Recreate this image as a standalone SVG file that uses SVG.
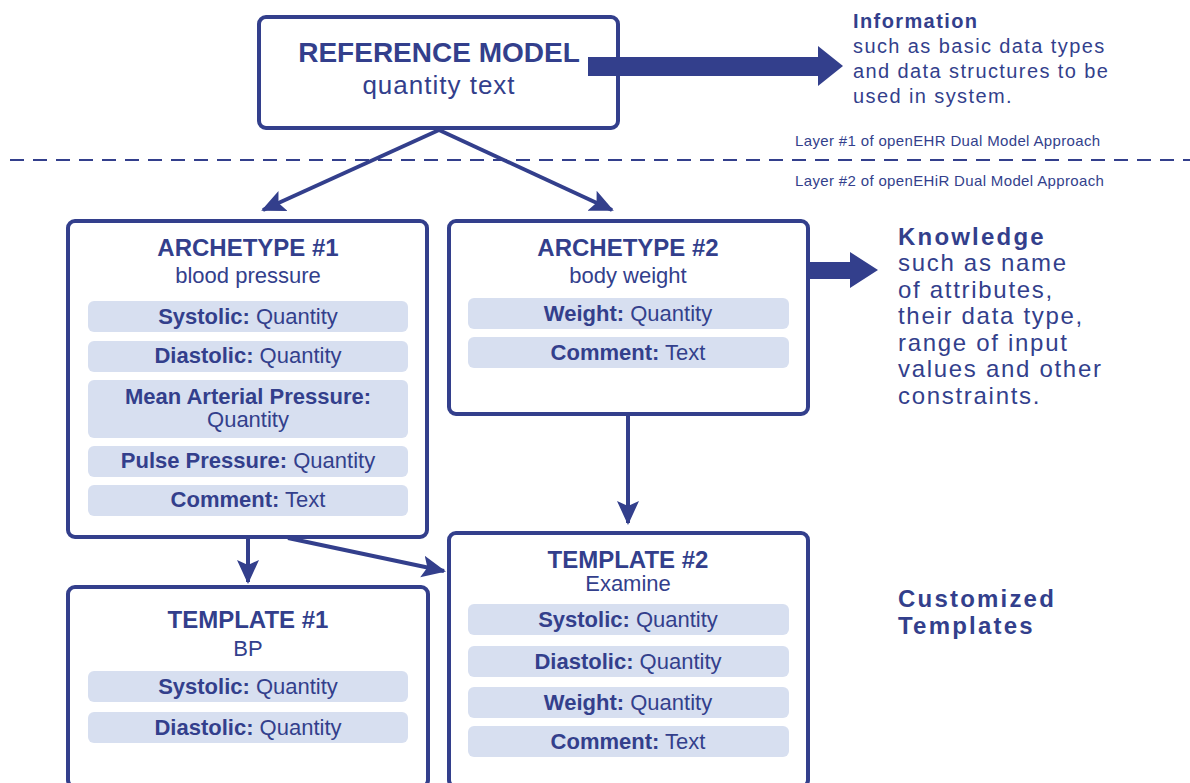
<svg xmlns="http://www.w3.org/2000/svg" width="1190" height="783" viewBox="0 0 1190 783">
<style>
.box{fill:#fff;stroke:#333f8c;stroke-width:4}
.row{fill:#d7dff0}
.t{font-family:"Liberation Sans",Arial,sans-serif;fill:#333f8c}
.title{font-weight:bold;font-size:24px;text-anchor:middle}
.sub{font-size:22px;text-anchor:middle}
.rt{font-size:22px;text-anchor:middle}
.b{font-weight:bold}
.conn{stroke:#333f8c;stroke-width:4;fill:none}
.thick{fill:#333f8c}
.side{font-size:20px;letter-spacing:1.4px}
.side2{font-size:24px;letter-spacing:1.7px}
.layer{font-size:15px;letter-spacing:0.35px}
</style>
<defs>
<marker id="ah" markerUnits="userSpaceOnUse" markerWidth="24" markerHeight="24" viewBox="0 0 24 24" refX="22" refY="12" orient="auto">
<path d="M0,1 L24,12 L0,23 L5,12 Z" fill="#333f8c"/>
</marker>
</defs>

<line x1="10" y1="160" x2="1190" y2="160" stroke="#333f8c" stroke-width="2" stroke-dasharray="14 9"/>
<text class="t layer" x="795" y="146">Layer #1 of openEHR Dual Model Approach</text>
<text class="t layer" x="795" y="186">Layer #2 of openEHiR Dual Model Approach</text>

<g id="connectors">
<line class="conn" x1="439" y1="130" x2="263" y2="210" marker-end="url(#ah)"/>
<line class="conn" x1="439" y1="130" x2="612" y2="210" marker-end="url(#ah)"/>
<line class="conn" x1="248" y1="538" x2="248" y2="582" marker-end="url(#ah)"/>
<line class="conn" x1="288" y1="538" x2="444" y2="571" marker-end="url(#ah)"/>
<line class="conn" x1="628" y1="415" x2="628" y2="523" marker-end="url(#ah)"/>
</g>

<g id="ref-model">
<rect class="box" x="259" y="17" width="359" height="111" rx="7"/>
<text class="t title" x="439" y="62" style="font-size:28px">REFERENCE MODEL</text>
<text class="t sub" x="439" y="94" style="font-size:26px;letter-spacing:1px">quantity text</text>
</g>
<polygon id="info-arrow" class="thick" points="588,57 818,57 818,46 843,66 818,86 818,76 588,76"/>

<g id="information">
<text class="t side b" x="853" y="28">Information</text>
<text class="t side" x="853" y="53">such as basic data types</text>
<text class="t side" x="853" y="78">and data structures to be</text>
<text class="t side" x="853" y="103">used in system.</text>
</g>

<g id="archetype1">
<rect class="box" x="68" y="221" width="359" height="316" rx="7"/>
<text class="t title" x="248" y="256">ARCHETYPE #1</text>
<text class="t sub" x="248" y="283">blood pressure</text>
<rect class="row" x="88" y="301" width="320" height="31" rx="6"/>
<text class="t rt" x="248" y="324"><tspan class="b">Systolic:</tspan> Quantity</text>
<rect class="row" x="88" y="341" width="320" height="31" rx="6"/>
<text class="t rt" x="248" y="363"><tspan class="b">Diastolic:</tspan> Quantity</text>
<rect class="row" x="88" y="380" width="320" height="58" rx="6"/>
<text class="t rt" x="248" y="404"><tspan class="b">Mean Arterial Pressure:</tspan></text>
<text class="t rt" x="248" y="427">Quantity</text>
<rect class="row" x="88" y="446" width="320" height="31" rx="6"/>
<text class="t rt" x="248" y="468"><tspan class="b">Pulse Pressure:</tspan> Quantity</text>
<rect class="row" x="88" y="485" width="320" height="31" rx="6"/>
<text class="t rt" x="248" y="507"><tspan class="b">Comment:</tspan> Text</text>
</g>

<g id="archetype2">
<rect class="box" x="449" y="221" width="359" height="193" rx="7"/>
<text class="t title" x="628" y="256">ARCHETYPE #2</text>
<text class="t sub" x="628" y="283">body weight</text>
<rect class="row" x="468" y="298" width="321" height="31" rx="6"/>
<text class="t rt" x="628" y="321"><tspan class="b">Weight:</tspan> Quantity</text>
<rect class="row" x="468" y="337" width="321" height="31" rx="6"/>
<text class="t rt" x="628" y="360"><tspan class="b">Comment:</tspan> Text</text>
</g>
<polygon id="knowledge-arrow" class="thick" points="810,262 850,262 850,252 878,270 850,288 850,279 810,279"/>

<g id="knowledge">
<text class="t side2 b" x="898" y="245" style="letter-spacing:2.2px">Knowledge</text>
<text class="t side2" x="898" y="271">such as name</text>
<text class="t side2" x="898" y="298">of attributes,</text>
<text class="t side2" x="898" y="324">their data type,</text>
<text class="t side2" x="898" y="351">range of input</text>
<text class="t side2" x="898" y="377">values and other</text>
<text class="t side2" x="898" y="404">constraints.</text>
</g>

<g id="template1">
<rect class="box" x="68" y="587" width="360" height="200" rx="7"/>
<text class="t title" x="248" y="628">TEMPLATE #1</text>
<text class="t sub" x="248" y="656">BP</text>
<rect class="row" x="88" y="671" width="320" height="31" rx="6"/>
<text class="t rt" x="248" y="694"><tspan class="b">Systolic:</tspan> Quantity</text>
<rect class="row" x="88" y="712" width="320" height="31" rx="6"/>
<text class="t rt" x="248" y="735"><tspan class="b">Diastolic:</tspan> Quantity</text>
</g>

<g id="template2">
<rect class="box" x="449" y="533" width="359" height="254" rx="7"/>
<text class="t title" x="628" y="568">TEMPLATE #2</text>
<text class="t sub" x="628" y="591">Examine</text>
<rect class="row" x="468" y="604" width="321" height="31" rx="6"/>
<text class="t rt" x="628" y="627"><tspan class="b">Systolic:</tspan> Quantity</text>
<rect class="row" x="468" y="646" width="321" height="31" rx="6"/>
<text class="t rt" x="628" y="669"><tspan class="b">Diastolic:</tspan> Quantity</text>
<rect class="row" x="468" y="687" width="321" height="31" rx="6"/>
<text class="t rt" x="628" y="710"><tspan class="b">Weight:</tspan> Quantity</text>
<rect class="row" x="468" y="726" width="321" height="31" rx="6"/>
<text class="t rt" x="628" y="749"><tspan class="b">Comment:</tspan> Text</text>
</g>

<g id="customized">
<text class="t side2 b" x="898" y="607" style="letter-spacing:2.2px">Customized</text>
<text class="t side2 b" x="898" y="634" style="letter-spacing:2.2px">Templates</text>
</g>
</svg>
